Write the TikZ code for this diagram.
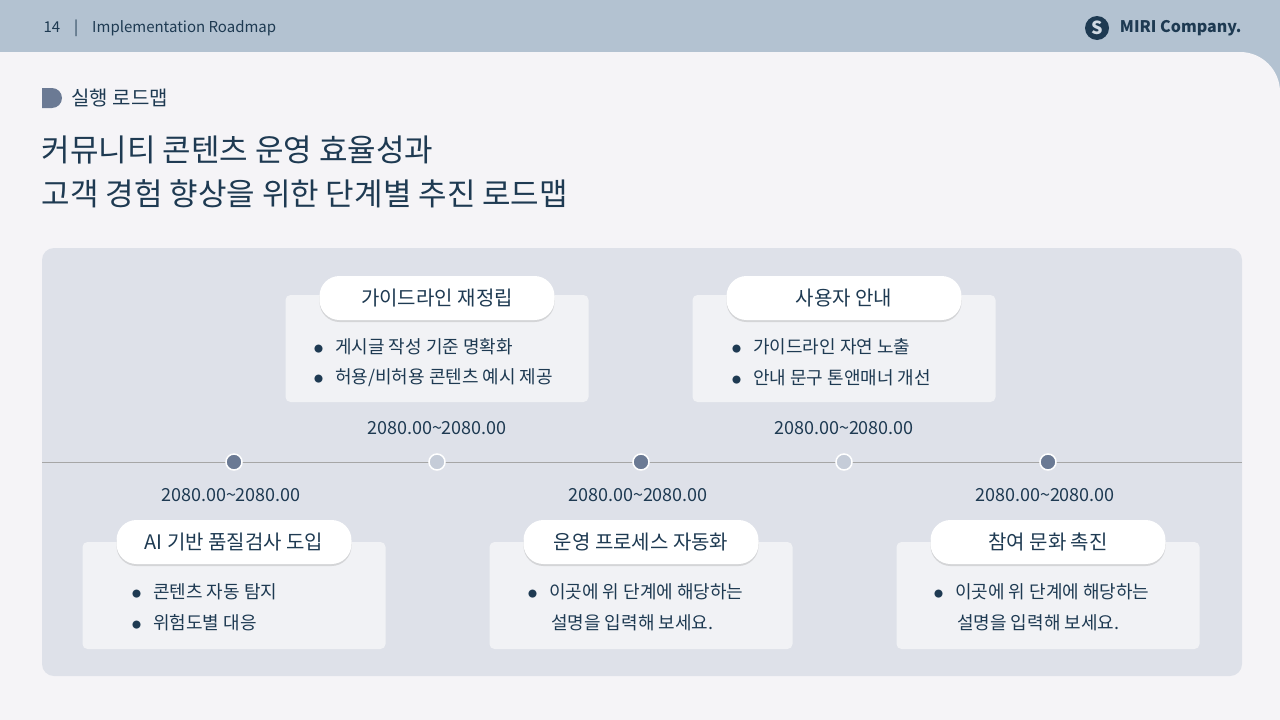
\documentclass[tikz,border=0pt]{standalone}
\usepackage{fontspec}
\setmainfont{Noto Sans CJK KR}
\usetikzlibrary{shadows}
\definecolor{hdr}{HTML}{B3C2D1}
\definecolor{pagebg}{HTML}{F5F4F7}
\definecolor{panel}{HTML}{DEE1E9}
\definecolor{ink}{HTML}{1E3A52}
\definecolor{dotd}{HTML}{6B7A94}
\definecolor{dotl}{HTML}{C5CCD8}
\definecolor{card}{HTML}{F1F2F5}
\newcommand{\mybul}{\raisebox{1.5pt}{\fontsize{9}{9}\selectfont ●}\hspace{12pt}}
\begin{document}
\begin{tikzpicture}[x=1pt,y=-1pt,
  cardbox/.style={fill=card,rounded corners=5pt,minimum width=303pt,minimum height=107pt,inner sep=0pt},
  pill/.style={fill=white,rounded corners=20pt,minimum width=235pt,minimum height=44pt,inner sep=0pt,font=\fontsize{20}{22}\selectfont,text=ink,
     drop shadow={shadow xshift=0pt,shadow yshift=-2pt,opacity=0.25}},
  bul/.style={font=\fontsize{18}{20}\selectfont,text=ink,anchor=west,inner sep=0pt},
  date/.style={font=\fontsize{18}{20}\selectfont,text=ink,inner sep=0pt},
  dotdark/.style={circle,fill=dotd,draw=white,line width=1.5pt,minimum size=16pt,inner sep=0pt},
  dotlight/.style={circle,fill=dotl,draw=white,line width=1.5pt,minimum size=16pt,inner sep=0pt}]
\useasboundingbox (0,0) rectangle (1280,720);
\fill[hdr] (0,0) rectangle (1280,720);
\fill[pagebg] (0,720) -- (0,52) -- (1240,52) arc[start angle=-90,end angle=0,radius=40] -- (1280,720) -- cycle;
\node[anchor=west,font=\fontsize{15}{17}\selectfont,text=ink] (pg) at (40,28) {14\hspace{14pt}|\hspace{14pt}Implementation Roadmap};
\node[anchor=east,font=\bfseries\fontsize{16}{18}\selectfont,text=ink] (logo) at (1245,28) {MIRI Company.};
\node[circle,fill=ink,minimum size=24pt,inner sep=0pt] (logoicon) at (1097,28) {};
\node[font=\bfseries\fontsize{18}{18}\selectfont,text=hdr!60!white] (logoin) at (1097,28) {S};
\fill[dotd] (42,88) -- (52,88) arc[start angle=-90,end angle=90,radius=10] -- (42,108) -- cycle;
\node[anchor=west,font=\fontsize{20}{22}\selectfont,text=ink] (sub) at (68,98) {실행 로드맵};
\node[anchor=west,font=\fontsize{31}{44}\selectfont,text=ink,align=left] (title) at (38,172) {커뮤니티 콘텐츠 운영 효율성과\\고객 경험 향상을 위한 단계별 추진 로드맵};
\fill[panel,rounded corners=12pt] (42,248) rectangle (1242,676);
\coordinate (tl) at (42,462); \coordinate (tr) at (1242,462);
\draw[gray!70,line width=1pt] (tl) -- (tr);
\node[cardbox] (c1) at (437,348.5) {}; \node[pill] (p1) at (437,298) {가이드라인 재정립};
\node[cardbox] (c2) at (844,348.5) {}; \node[pill] (p2) at (844,298) {사용자 안내};
\node[cardbox] (c3) at (234,595.5) {}; \node[pill] (p3) at (234,542) {AI 기반 품질검사 도입};
\node[cardbox] (c4) at (641,595.5) {}; \node[pill] (p4) at (641,542) {운영 프로세스 자동화};
\node[cardbox] (c5) at (1048,595.5) {}; \node[pill] (p5) at (1048,542) {참여 문화 촉진};
\node[bul] (b1) at (314,347) {\mybul 게시글 작성 기준 명확화};
\node[bul] (b2) at (314,378) {\mybul 허용/비허용 콘텐츠 예시 제공};
\node[bul] (b3) at (732,347) {\mybul 가이드라인 자연 노출};
\node[bul] (b4) at (732,378) {\mybul 안내 문구 톤앤매너 개선};
\node[bul] (b5) at (132,592) {\mybul 콘텐츠 자동 탐지};
\node[bul] (b6) at (132,623) {\mybul 위험도별 대응};
\node[bul] (b7) at (528,592) {\mybul 이곳에 위 단계에 해당하는};
\node[bul] (b8) at (551,623) {설명을 입력해 보세요.};
\node[bul] (b9) at (934,592) {\mybul 이곳에 위 단계에 해당하는};
\node[bul] (b10) at (957,623) {설명을 입력해 보세요.};
\node[date] (d1) at (437,428) {2080.00\textasciitilde2080.00};
\node[date] (d2) at (844,428) {2080.00\textasciitilde2080.00};
\node[date] (d3) at (231,495) {2080.00\textasciitilde2080.00};
\node[date] (d4) at (638,495) {2080.00\textasciitilde2080.00};
\node[date] (d5) at (1045,495) {2080.00\textasciitilde2080.00};
\node[dotdark] (m1) at (234,462) {};
\node[dotlight] (m2) at (437,462) {};
\node[dotdark] (m3) at (641,462) {};
\node[dotlight] (m4) at (844,462) {};
\node[dotdark] (m5) at (1048,462) {};
\end{tikzpicture}
\end{document}
